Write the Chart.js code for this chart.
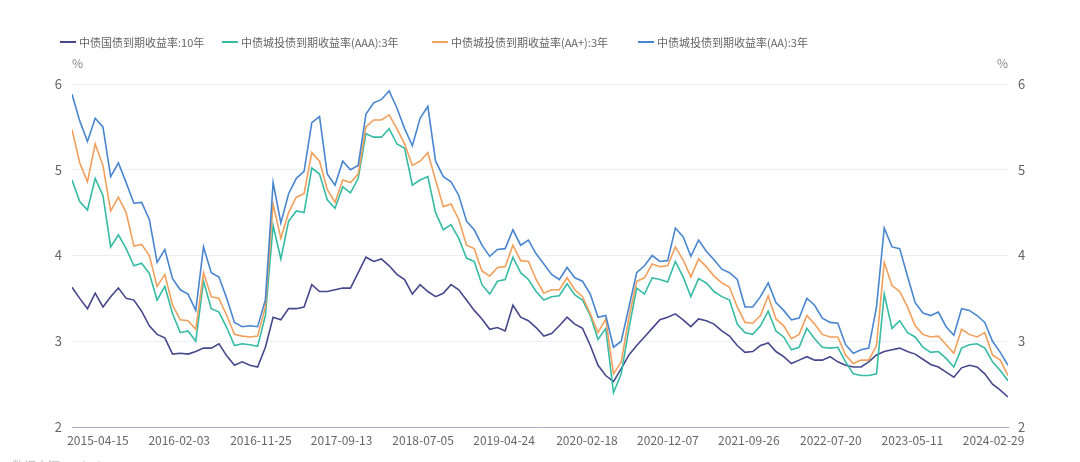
<!DOCTYPE html>
<html>
<head>
<meta charset="utf-8">
<script src="https://cdn.jsdelivr.net/npm/chart.js@4.4.1/dist/chart.umd.min.js"></script>
<style>
  html, body { margin: 0; padding: 0; background: #fff; }
  .wrap { position: relative; width: 1080px; height: 462px; overflow: hidden; font-family: "Noto Sans CJK SC", "Microsoft YaHei", sans-serif; }
  .wrap canvas { position: absolute; left: 0; top: 0; }
  .legend { position: absolute; left: 0; top: 33px; width: 1080px; height: 18px; }
  .legend__item { position: absolute; top: 0; height: 18px; display: flex; align-items: center; white-space: nowrap; font-size: 11px; color: #666; }
  .legend__line { width: 16px; height: 2px; margin-right: 3px; }
  .source { position: absolute; left: 12px; top: 457px; font-size: 12px; color: #bbb; white-space: nowrap; }
</style>
</head>
<body>
<div class="wrap">
  <canvas id="yieldChart" width="1080" height="462"></canvas>
  <div class="legend js-legend"></div>
  <div class="source">数据来源：Wind</div>
</div>
<script>
// sample dates (every 4 weeks)
const dates = [
  '2015-01-11','2015-02-08','2015-03-08','2015-04-05','2015-05-03','2015-05-31','2015-06-28','2015-07-26','2015-08-23','2015-09-20','2015-10-18','2015-11-15','2015-12-13',
  '2016-01-10','2016-02-07','2016-03-06','2016-04-03','2016-05-01','2016-05-29','2016-06-26','2016-07-24','2016-08-21','2016-09-18','2016-10-16','2016-11-13','2016-12-11',
  '2017-01-08','2017-02-05','2017-03-05','2017-04-02','2017-04-30','2017-05-28','2017-06-25','2017-07-23','2017-08-20','2017-09-17','2017-10-15','2017-11-12','2017-12-10',
  '2018-01-07','2018-02-04','2018-03-04','2018-04-01','2018-04-29','2018-05-27','2018-06-24','2018-07-22','2018-08-19','2018-09-16','2018-10-14','2018-11-11','2018-12-09',
  '2019-01-06','2019-02-03','2019-03-03','2019-03-31','2019-04-28','2019-05-26','2019-06-23','2019-07-21','2019-08-18','2019-09-15','2019-10-13','2019-11-10','2019-12-08',
  '2020-01-05','2020-02-02','2020-03-01','2020-03-29','2020-04-26','2020-05-24','2020-06-21','2020-07-19','2020-08-16','2020-09-13','2020-10-11','2020-11-08','2020-12-06',
  '2021-01-03','2021-01-31','2021-02-28','2021-03-28','2021-04-25','2021-05-23','2021-06-20','2021-07-18','2021-08-15','2021-09-12','2021-10-10','2021-11-07','2021-12-05',
  '2022-01-02','2022-01-30','2022-02-27','2022-03-27','2022-04-24','2022-05-22','2022-06-19','2022-07-17','2022-08-14','2022-09-11','2022-10-09','2022-11-06','2022-12-04',
  '2023-01-01','2023-01-29','2023-02-26','2023-03-26','2023-04-23','2023-05-21','2023-06-18','2023-07-16','2023-08-13','2023-09-10','2023-10-08','2023-11-05','2023-12-03','2023-12-31',
  '2024-01-28','2024-02-25','2024-03-24','2024-04-21',
];

const tickDates = [
  '2015-04-15','2016-02-03','2016-11-25','2017-09-13','2018-07-05','2019-04-24',
  '2020-02-18','2020-12-07','2021-09-26','2022-07-20','2023-05-11','2024-02-29',
];

const yTicks = [2, 3, 4, 5, 6];

const seriesNames = [
  '中债国债到期收益率:10年',
  '中债城投债到期收益率(AAA):3年',
  '中债城投债到期收益率(AA+):3年',
  '中债城投债到期收益率(AA):3年',
];
const seriesColors = ['#46488c', '#36bba5', '#f1a05c', '#4a86cf'];
const legendLeft = [60, 222, 432, 638];

const gov10y = [
  3.63, 3.50, 3.38, 3.56, 3.40, 3.52, 3.62, 3.50, 3.48, 3.35, 3.18, 3.08, 3.04,
  2.85, 2.86, 2.85, 2.88, 2.92, 2.92, 2.97, 2.83, 2.72, 2.76, 2.72, 2.70, 2.93,
  3.28, 3.25, 3.38, 3.38, 3.40, 3.66, 3.58, 3.58, 3.60, 3.62, 3.62, 3.80, 3.98,
  3.93, 3.96, 3.88, 3.78, 3.72, 3.55, 3.66, 3.58, 3.52, 3.56, 3.66, 3.60, 3.48,
  3.36, 3.26, 3.14, 3.16, 3.12, 3.42, 3.28, 3.24, 3.16, 3.06, 3.09, 3.18, 3.28,
  3.20, 3.15, 2.95, 2.72, 2.60, 2.53, 2.68, 2.84, 2.95, 3.05, 3.15, 3.25, 3.28,
  3.32, 3.25, 3.17, 3.26, 3.24, 3.20, 3.12, 3.06, 2.95, 2.87, 2.88, 2.95, 2.98,
  2.88, 2.82, 2.74, 2.78, 2.82, 2.78, 2.78, 2.82, 2.76, 2.72, 2.70, 2.70, 2.76,
  2.84, 2.88, 2.90, 2.92, 2.88, 2.85, 2.79, 2.73, 2.70, 2.64, 2.58, 2.69, 2.72, 2.70,
  2.62, 2.50, 2.43, 2.35,
];

const aaa3y = [
  4.88, 4.63, 4.53, 4.90, 4.70, 4.10, 4.24, 4.08, 3.88, 3.91, 3.79, 3.48, 3.64,
  3.32, 3.10, 3.12, 3.00, 3.70, 3.38, 3.34, 3.16, 2.95, 2.97, 2.96, 2.94, 3.30,
  4.35, 3.96, 4.40, 4.52, 4.50, 5.02, 4.95, 4.65, 4.55, 4.80, 4.73, 4.90, 5.42,
  5.38, 5.38, 5.48, 5.30, 5.25, 4.82, 4.88, 4.92, 4.50, 4.30, 4.36, 4.20, 3.97,
  3.93, 3.66, 3.55, 3.70, 3.72, 3.98, 3.80, 3.72, 3.58, 3.48, 3.52, 3.53, 3.67,
  3.54, 3.48, 3.30, 3.02, 3.15, 2.40, 2.62, 3.15, 3.62, 3.55, 3.74, 3.72, 3.69,
  3.93, 3.75, 3.52, 3.73, 3.68, 3.58, 3.52, 3.48, 3.20, 3.10, 3.08, 3.18, 3.35,
  3.12, 3.05, 2.90, 2.93, 3.15, 3.03, 2.93, 2.92, 2.93, 2.76, 2.62, 2.60, 2.60,
  2.62, 3.55, 3.15, 3.24, 3.10, 3.05, 2.93, 2.87, 2.88, 2.80, 2.70, 2.92, 2.96, 2.97,
  2.92, 2.76, 2.66, 2.54,
];

const aaPlus3y = [
  5.47, 5.08, 4.86, 5.30, 5.05, 4.52, 4.68, 4.50, 4.11, 4.13, 4.00, 3.64, 3.78,
  3.42, 3.25, 3.24, 3.14, 3.80, 3.52, 3.50, 3.30, 3.08, 3.06, 3.05, 3.06, 3.40,
  4.60, 4.20, 4.50, 4.68, 4.72, 5.20, 5.10, 4.77, 4.62, 4.88, 4.85, 4.95, 5.50,
  5.58, 5.58, 5.64, 5.48, 5.30, 5.05, 5.10, 5.20, 4.88, 4.57, 4.60, 4.42, 4.12,
  4.08, 3.82, 3.76, 3.86, 3.87, 4.12, 3.94, 3.93, 3.72, 3.56, 3.60, 3.60, 3.74,
  3.60, 3.52, 3.32, 3.10, 3.26, 2.62, 2.76, 3.28, 3.70, 3.74, 3.90, 3.87, 3.88,
  4.10, 3.95, 3.75, 3.96, 3.87, 3.76, 3.68, 3.63, 3.40, 3.22, 3.21, 3.30, 3.53,
  3.26, 3.18, 3.03, 3.08, 3.30, 3.20, 3.08, 3.05, 3.05, 2.84, 2.74, 2.78, 2.78,
  2.95, 3.92, 3.65, 3.58, 3.40, 3.18, 3.08, 3.05, 3.06, 2.96, 2.86, 3.14, 3.08, 3.05,
  3.10, 2.84, 2.78, 2.60,
];

const aa3y = [
  5.88, 5.57, 5.33, 5.60, 5.50, 4.92, 5.08, 4.85, 4.61, 4.62, 4.42, 3.92, 4.07,
  3.73, 3.60, 3.55, 3.36, 4.10, 3.80, 3.75, 3.50, 3.22, 3.17, 3.18, 3.17, 3.48,
  4.85, 4.38, 4.72, 4.90, 4.98, 5.55, 5.62, 4.95, 4.82, 5.10, 5.00, 5.05, 5.65,
  5.78, 5.82, 5.92, 5.72, 5.48, 5.28, 5.60, 5.74, 5.10, 4.92, 4.86, 4.70, 4.40,
  4.30, 4.12, 3.99, 4.07, 4.08, 4.30, 4.12, 4.18, 4.02, 3.90, 3.78, 3.72, 3.86,
  3.74, 3.70, 3.55, 3.28, 3.30, 2.93, 3.00, 3.40, 3.80, 3.88, 4.00, 3.93, 3.94,
  4.32, 4.22, 3.99, 4.18, 4.05, 3.95, 3.84, 3.80, 3.72, 3.40, 3.40, 3.52, 3.68,
  3.45, 3.36, 3.25, 3.27, 3.50, 3.42, 3.27, 3.22, 3.21, 2.96, 2.86, 2.90, 2.92,
  3.40, 4.32, 4.10, 4.08, 3.76, 3.45, 3.33, 3.30, 3.34, 3.17, 3.07, 3.38, 3.36, 3.30,
  3.22, 3.00, 2.87, 2.72,
];

const seriesValues = [gov10y, aaa3y, aaPlus3y, aa3y];

const toTime = (d) => Date.parse(`${d}T00:00:00Z`);

function renderLegend() {
  const legend = document.querySelector('.js-legend');
  seriesNames.forEach((name, idx) => {
    legend.insertAdjacentHTML('beforeend', `<div class="legend__item" style="left:${legendLeft[idx]}px">
      <span class="legend__line" style="background:${seriesColors[idx]}"></span>${name}
    </div>`);
  });
}

const unitLabelPlugin = {
  id: 'unitLabel',
  afterDraw(chart) {
    const { ctx, chartArea } = chart;
    ctx.save();
    ctx.font = '12px "Noto Sans CJK SC", sans-serif';
    ctx.fillStyle = '#888';
    ctx.textBaseline = 'middle';
    ctx.textAlign = 'left';
    ctx.fillText('%', chartArea.left, chartArea.top - 21);
    ctx.textAlign = 'right';
    ctx.fillText('%', chartArea.right, chartArea.top - 21);
    ctx.restore();
  },
};

Chart.defaults.font.family = '"Noto Sans CJK SC", "Microsoft YaHei", sans-serif';
Chart.defaults.font.size = 12;
Chart.defaults.color = '#666';

renderLegend();

const yAxisCommon = {
  min: 2,
  max: 6,
  afterBuildTicks: (scale) => { scale.ticks = yTicks.map((v) => ({ value: v })); },
  afterFit: (scale) => { scale.width = 72; },
  border: { display: false },
  ticks: { padding: 10, color: '#666', font: { size: 13 } },
};

new Chart(document.getElementById('yieldChart').getContext('2d'), {
  type: 'line',
  data: {
    datasets: seriesValues.map((values, idx) => ({
      label: seriesNames[idx],
      data: values.map((v, i) => ({ x: toTime(dates[i]), y: v })),
      borderColor: seriesColors[idx],
      backgroundColor: seriesColors[idx],
      borderWidth: 1.6,
      pointRadius: 0,
      tension: 0,
      yAxisID: 'yLeft',
      order: seriesValues.length - idx,
    })),
  },
  options: {
    responsive: false,
    animation: false,
    devicePixelRatio: 1,
    layout: { padding: { top: 84, left: 0, right: 0, bottom: 0 } },
    plugins: {
      legend: { display: false },
      tooltip: { enabled: false },
    },
    scales: {
      x: {
        type: 'linear',
        min: toTime(dates[0]),
        max: toTime(dates[dates.length - 1]),
        afterBuildTicks: (scale) => { scale.ticks = tickDates.map((d) => ({ value: toTime(d) })); },
        afterFit: (scale) => { scale.height = 35; },
        grid: { display: false, drawTicks: false },
        border: { display: true, color: '#a7b0c6', width: 1 },
        ticks: {
          autoSkip: false,
          maxRotation: 0,
          padding: 6,
          color: '#666',
          callback: (value, index) => tickDates[index],
        },
      },
      yLeft: {
        ...yAxisCommon,
        position: 'left',
        grid: {
          drawTicks: false,
          color: (ctx) => (ctx.tick && ctx.tick.value === 2 ? 'rgba(0,0,0,0)' : '#eceff5'),
        },
      },
      yRight: {
        ...yAxisCommon,
        position: 'right',
        grid: { display: false, drawTicks: false },
      },
    },
  },
  plugins: [unitLabelPlugin],
});
</script>
</body>
</html>
